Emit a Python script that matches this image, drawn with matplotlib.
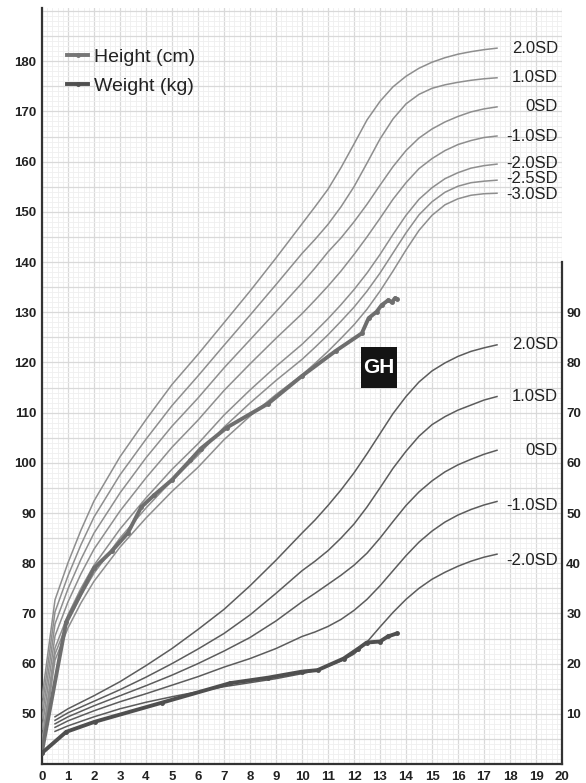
import matplotlib
matplotlib.use('Agg')
import matplotlib.pyplot as plt
from matplotlib.lines import Line2D
from matplotlib.patches import Rectangle
from matplotlib.ticker import MultipleLocator, FuncFormatter

plt.rcParams['font.family'] = ['Liberation Sans', 'DejaVu Sans']

# ---------------- data ----------------
height_ages = [0, 0.5, 1, 1.5, 2, 3, 4, 5, 6, 7, 8, 9, 10, 10.5, 11, 11.5, 12, 12.5,
               13, 13.5, 14, 14.5, 15, 15.5, 16, 16.5, 17, 17.5]
h_p2  = [53.2, 72.7, 80.1, 86.6, 92.4, 101.2, 108.6, 115.6, 121.6, 127.9, 134.2, 140.8,
         147.6, 151.0, 154.5, 158.8, 163.5, 168.3, 172.0, 174.9, 177.0, 178.6, 179.8, 180.7, 181.4, 181.9, 182.3, 182.6]
h_p1  = [51.1, 70.3, 77.5, 83.7, 89.2, 97.6, 104.7, 111.4, 117.3, 123.4, 129.4, 135.5,
         141.7, 144.5, 147.5, 151.0, 155.0, 159.7, 164.5, 168.5, 171.5, 173.4, 174.6, 175.3, 175.8, 176.2, 176.5, 176.7]
h_0   = [49.0, 67.9, 74.9, 80.8, 86.0, 94.0, 101.0, 107.3, 112.9, 118.9, 124.5, 130.1,
         135.8, 138.8, 142.0, 144.8, 148.0, 151.5, 155.3, 159.0, 162.2, 164.7, 166.5, 167.9, 169.0, 169.9, 170.5, 170.9]
h_m1  = [46.9, 65.5, 72.3, 77.9, 82.8, 90.4, 97.0, 103.1, 108.5, 114.4, 119.7, 124.8,
         129.7, 132.4, 135.2, 138.2, 141.5, 145.0, 148.7, 152.5, 155.8, 158.6, 160.6, 162.2, 163.4, 164.2, 164.8, 165.1]
h_m2  = [44.8, 63.1, 69.7, 75.0, 79.6, 86.8, 93.0, 98.7, 103.8, 109.5, 114.5, 119.2,
         123.6, 126.1, 128.7, 131.5, 134.5, 137.8, 141.5, 145.5, 149.3, 152.5, 154.8, 156.6, 157.8, 158.7, 159.2, 159.5]
h_m25 = [43.7, 61.9, 68.4, 73.6, 78.0, 85.0, 91.0, 96.5, 101.5, 107.1, 111.9, 116.4,
         120.6, 123.0, 125.5, 128.2, 131.0, 134.2, 137.8, 141.8, 145.8, 149.4, 152.0, 153.9, 155.1, 155.8, 156.1, 156.3]
h_m3  = [42.7, 60.7, 67.1, 72.1, 76.4, 83.2, 89.0, 94.3, 99.1, 104.6, 109.3, 113.6,
         117.5, 119.8, 122.2, 124.8, 127.5, 130.6, 134.2, 138.2, 142.4, 146.3, 149.3, 151.4, 152.6, 153.3, 153.6, 153.7]
height_labels = ['2.0SD', '1.0SD', '0SD', '-1.0SD', '-2.0SD', '-2.5SD', '-3.0SD']

weight_ages = [0.5, 1, 2, 3, 4, 5, 6, 7, 8, 9, 10, 10.5, 11, 11.5, 12, 12.5, 13, 13.5,
               14, 14.5, 15, 15.5, 16, 16.5, 17, 17.5]
w_p2 = [9.4, 11.0, 13.6, 16.4, 19.6, 23.0, 26.8, 30.8, 35.5, 40.6,
        46.0, 48.6, 51.5, 54.6, 58.0, 61.8, 65.8, 69.8, 73.2, 76.1, 78.3, 79.9, 81.2, 82.2, 82.9, 83.5]
w_p1 = [8.7, 10.2, 12.5, 14.8, 17.3, 20.0, 22.9, 26.0, 29.7, 34.0,
        38.5, 40.4, 42.5, 45.0, 47.8, 51.2, 55.0, 58.9, 62.3, 65.3, 67.6, 69.2, 70.5, 71.5, 72.5, 73.2]
w_0  = [8.0, 9.4, 11.6, 13.6, 15.6, 17.7, 20.0, 22.5, 25.2, 28.5,
        32.3, 34.0, 35.8, 37.6, 39.6, 42.0, 45.0, 48.3, 51.5, 54.2, 56.4, 58.2, 59.6, 60.7, 61.7, 62.5]
w_m1 = [7.3, 8.6, 10.6, 12.4, 14.0, 15.7, 17.4, 19.3, 21.0, 23.0,
        25.4, 26.3, 27.4, 28.8, 30.6, 32.8, 35.5, 38.5, 41.5, 44.2, 46.4, 48.2, 49.6, 50.7, 51.6, 52.3]
w_m2 = [6.5, 7.6, 9.4, 11.0, 12.3, 13.4, 14.4, 15.4, 16.2, 17.0,
        18.0, 18.6, 19.5, 20.5, 21.9, 24.3, 27.3, 30.2, 32.8, 35.0, 36.8, 38.2, 39.4, 40.4, 41.2, 41.8]
weight_labels = ['2.0SD', '1.0SD', '0SD', '-1.0SD', '-2.0SD']

patient_h_ages = [0, 0.93, 2.0, 2.7, 3.3, 3.82, 4.3, 5.0, 5.7, 6.1, 7.1, 8.7, 10.0, 11.3,
                  12.3, 12.56, 12.87, 13.06, 13.32, 13.45, 13.58, 13.64]
patient_h      = [42.5, 68.3, 79.0, 82.5, 86.0, 91.2, 93.5, 96.6, 100.5, 102.8, 107.0, 111.8, 117.3, 122.3,
                  125.8, 128.8, 130.1, 131.4, 132.4, 132.0, 132.8, 132.6]
patient_w_ages = [0, 0.93, 2.02, 4.6, 7.23, 8.7, 10.0, 10.6, 11.6, 12.17, 12.49, 13.0, 13.3, 13.64]
patient_w      = [2.2, 6.4, 8.4, 12.2, 16.1, 17.2, 18.4, 18.7, 21.0, 23.0, 24.2, 24.4, 25.4, 26.0]

x_ticks = list(range(0, 21))
left_ticks = list(range(50, 190, 10))
right_ticks = list(range(10, 100, 10))

# ---------------- figure ----------------
W, H = 586, 783
fig = plt.figure(figsize=(W / 100, H / 100), dpi=100)
ax = fig.add_axes([42 / W, 19 / H, 520 / W, 756 / H])
ax.set_xlim(0, 20)
ax.set_ylim(40, 190.6)

ax.xaxis.set_major_locator(MultipleLocator(1))
ax.xaxis.set_minor_locator(MultipleLocator(0.2))
ax.yaxis.set_major_locator(MultipleLocator(5))
ax.yaxis.set_minor_locator(MultipleLocator(1))
ax.grid(which='major', color='#d9d9d9', lw=0.9)
ax.grid(which='minor', color='#efefef', lw=0.6)
ax.set_axisbelow(True)

tick_family = ['Liberation Sans Narrow', 'Liberation Sans', 'DejaVu Sans']
ax.yaxis.set_major_formatter(FuncFormatter(
    lambda v, p: f'{int(round(v))}' if (int(round(v)) in left_ticks) else ''))
ax.set_xticks(x_ticks)
ax.set_xticklabels([str(t) for t in x_ticks])
ax.tick_params(axis='both', which='both', length=0)
ax.tick_params(axis='x', pad=5)
ax.tick_params(axis='y', pad=4)

for s in ['top', 'right']:
    ax.spines[s].set_visible(False)
for s in ['left', 'bottom']:
    ax.spines[s].set_color('#333333')
    ax.spines[s].set_linewidth(1.6)

# height reference curves
h_curves = [h_p2, h_p1, h_0, h_m1, h_m2, h_m25, h_m3]
h_offsets = [0, 0, 0, 0, 0.2, 0.4, -0.3]
for vals, lab, off in zip(h_curves, height_labels, h_offsets):
    ax.plot(height_ages, vals, color='#8e8e8e', lw=1.1, zorder=3)
    ax.text(19.85, vals[-1] + off, lab, ha='right', va='center', fontsize=12, color='#222')

# patient height
ax.plot(patient_h_ages, patient_h, color='#6e6e6e', lw=2.8, marker='o', ms=2.5,
        solid_capstyle='round', zorder=5)

# weight axis
ax2 = ax.twinx()
ax2.set_ylim(0, 150.6)
for s in ['top', 'left', 'bottom']:
    ax2.spines[s].set_visible(False)
ax2.spines['right'].set_bounds(0, 100)
ax2.spines['right'].set_color('#333333')
ax2.spines['right'].set_linewidth(1.6)
ax2.set_yticks(right_ticks)
ax2.tick_params(axis='y', length=0, pad=3)

w_curves = [w_p2, w_p1, w_0, w_m1, w_m2]
w_offsets = [0, 0, 0, -0.8, -1.2]
for vals, lab, off in zip(w_curves, weight_labels, w_offsets):
    ax2.plot(weight_ages, vals, color='#5c5c5c', lw=1.1, zorder=3)
    ax2.text(19.85, vals[-1] + off, lab, ha='right', va='center', fontsize=12, color='#222')

ax2.plot(patient_w_ages, patient_w, color='#4f4f4f', lw=2.8, marker='o', ms=2.5,
         solid_capstyle='round', zorder=5)

for lab in ax.get_xticklabels() + ax.get_yticklabels() + ax2.get_yticklabels():
    lab.set_family(tick_family)
    lab.set_weight('bold')
    lab.set_size(9.5)
    lab.set_color('#222')

# GH label box
ax.add_patch(Rectangle((12.27, 115.0), 1.40, 8.1, facecolor='#141414', edgecolor='none', zorder=6))
ax.text(12.97, 119.05, 'GH', ha='center', va='center', color='white', fontsize=15,
        fontweight='bold', zorder=7)

# legend
handles = [Line2D([], [], color='#777777', lw=2.8, marker='o', ms=2.5),
           Line2D([], [], color='#4f4f4f', lw=2.8, marker='o', ms=2.5)]
leg = ax.legend(handles, ['Height (cm)', 'Weight (kg)'], loc='upper left',
                bbox_to_anchor=(67 / W, 1 - 48 / H), bbox_transform=fig.transFigure,
                frameon=False, fontsize=14, handlelength=1.1, handletextpad=0.3,
                labelspacing=0.6, borderpad=0, borderaxespad=0)
for t in leg.get_texts():
    t.set_color('#222')

fig.savefig('out.png', dpi=100, facecolor='white')
